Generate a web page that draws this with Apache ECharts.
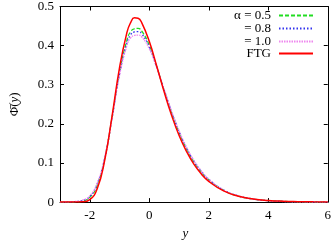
<!DOCTYPE html>
<html><head><meta charset="utf-8">
<script src="https://cdn.jsdelivr.net/npm/echarts@6/dist/echarts.min.js"></script>
<style>html,body{margin:0;padding:0;background:#fff}#c{width:334px;height:245px}</style>
</head><body><div id="c"></div>
<script>
const xs = [-3,-2.75,-2.5,-2.25,-2,-1.75,-1.5,-1.25,-1,-0.75,-0.625,-0.5,-0.375,-0.25,0,0.25,0.5,0.75,1,1.25,1.5,1.75,2,2.5,3,3.5,4,4.5,5,5.5,6];
const alpha05 = [0,0.0001,0.0008,0.003,0.012,0.043,0.110,0.216,0.331,0.414,0.436,0.443,0.444,0.437,0.401,0.346,0.286,0.229,0.179,0.137,0.103,0.077,0.057,0.030,0.0155,0.0078,0.0038,0.0018,0.0008,0.0003,0.0001];
const alpha08 = [0,0.0002,0.0012,0.004,0.014,0.046,0.112,0.215,0.327,0.407,0.428,0.435,0.436,0.430,0.397,0.345,0.287,0.231,0.181,0.139,0.105,0.078,0.058,0.031,0.0157,0.0077,0.0036,0.0016,0.0007,0.0003,0.0001];
const alpha10 = [0,0.0003,0.0016,0.005,0.016,0.049,0.114,0.214,0.323,0.400,0.420,0.426,0.427,0.422,0.392,0.343,0.288,0.233,0.183,0.141,0.107,0.080,0.059,0.031,0.0158,0.0076,0.0035,0.0015,0.0006,0.0002,0.0001];
const ftg = [0,0,0.00002,0.0006,0.0063,0.034,0.106,0.220,0.343,0.434,0.459,0.471,0.470,0.458,0.411,0.348,0.282,0.222,0.171,0.130,0.097,0.072,0.053,0.0285,0.0152,0.0080,0.0042,0.0022,0.0012,0.0006,0.0003];
const xTicks = [-2,0,2,4,6];
const seriesNames = ['α = 0.5','= 0.8','= 1.0','FTG'];

const font = 'Liberation Serif';
const pair = ys => xs.map((x,i)=>[x,ys[i]]);
const styles = [
  {color:'#22dd22', type:[4,2], width:1.3},
  {color:'#3333ee', type:[1.5,2], width:1.3},
  {color:'#ee88ee', type:[1.5,1], width:1.3},
  {color:'#ff0000', type:'solid', width:1.5}
];
const datas = [alpha05, alpha08, alpha10, ftg];
const legendTops = [9, 22, 35, 47];

const chart = echarts.init(document.getElementById('c'), null, {renderer:'canvas'});
const axisCommon = {
  axisLine:{show:true, onZero:false, lineStyle:{color:'#000', width:1}},
  splitLine:{show:false}
};
chart.setOption({
  animation:false,
  backgroundColor:'#fff',
  grid:{left:51, right:4, top:6, bottom:34},
  legend: seriesNames.map((n,i)=>({
    data:[n], right:20, top:legendTops[i], orient:'vertical', align:'right',
    itemWidth:34, itemHeight:10, padding:0,
    itemStyle:{opacity:0},
    textStyle:{fontFamily:font, fontSize:13, color:'#000', padding:[0,3,0,0]}
  })),
  xAxis:[
    Object.assign({type:'value', min:-3, max:6, position:'bottom',
      axisTick:{show:true, inside:true, length:4, customValues:xTicks, lineStyle:{color:'#000'}},
      axisLabel:{customValues:xTicks, margin:7, fontFamily:font, fontSize:13, color:'#000',
        formatter:v=> v<0 ? '-'+Math.abs(v) : String(v)},
      name:'y', nameLocation:'middle', nameGap:22,
      nameTextStyle:{fontFamily:font, fontSize:13, fontStyle:'italic', color:'#000', padding:[0,17,0,0]}
    }, axisCommon),
    Object.assign({type:'value', min:-3, max:6, position:'top',
      axisTick:{show:true, inside:true, length:4, customValues:xTicks, lineStyle:{color:'#000'}},
      axisLabel:{show:false}
    }, axisCommon)
  ],
  yAxis:[
    Object.assign({type:'value', min:0, max:0.5, interval:0.1, position:'left',
      axisTick:{show:true, inside:true, length:4, lineStyle:{color:'#000'}},
      axisLabel:{margin:6, fontFamily:font, fontSize:13, color:'#000',
        formatter:v=> v===0 ? '0' : v.toFixed(1)},
      name:'{a|Φ̄(}{b|y}{a|)}', nameLocation:'middle', nameGap:39, nameRotate:90,
      nameTextStyle:{rich:{a:{fontFamily:font, fontSize:13, color:'#000'}, b:{fontFamily:font, fontSize:13, fontStyle:'italic', color:'#000'}}}
    }, axisCommon),
    Object.assign({type:'value', min:0, max:0.5, interval:0.1, position:'right',
      axisTick:{show:true, inside:true, length:4, lineStyle:{color:'#000'}},
      axisLabel:{show:false}
    }, axisCommon)
  ],
  series: seriesNames.map((n,i)=>({
    name:n, type:'line', xAxisIndex:0, yAxisIndex:0,
    data:pair(datas[i]), smooth:0.5, showSymbol:false, symbol:'none',
    lineStyle:styles[i], itemStyle:{color:styles[i].color}, z:2+i
  }))
});
</script></body></html>
